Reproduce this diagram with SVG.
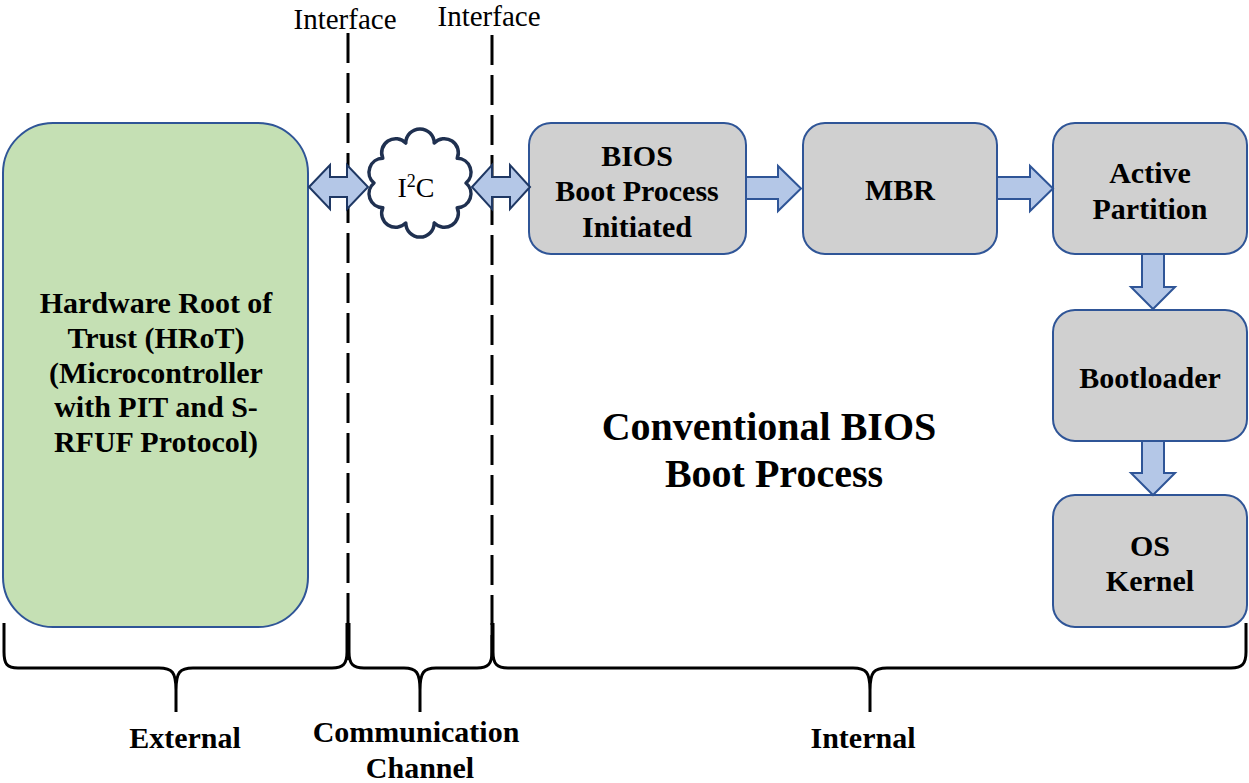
<svg xmlns="http://www.w3.org/2000/svg" width="1249" height="783" viewBox="0 0 1249 783">
<style>
.box{fill:#d0d0d0;stroke:#2f5597;stroke-width:2}
.hrot{fill:#c5e0b4;stroke:#2f5597;stroke-width:2}
.lbl{font-family:"Liberation Serif","Times New Roman",serif;font-weight:bold;font-size:30px;fill:#000;text-anchor:middle}
.big{font-size:40px}
.reg{font-family:"Liberation Serif","Times New Roman",serif;font-size:29px;fill:#000;text-anchor:middle}
.arr{fill:#b4c7e7;stroke:#2f5597;stroke-width:2;stroke-linejoin:miter}
.darr{fill:#b4c7e7;stroke:#1f3864;stroke-width:2;stroke-linejoin:miter}
.dash{stroke:#000;stroke-width:3;stroke-dasharray:30 10;fill:none}
.brace{stroke:#000;stroke-width:3;fill:none;stroke-linejoin:round}
</style>
<rect width="1249" height="783" fill="#fff"/>
<g id="interfaces">
<line class="dash" x1="348" y1="33" x2="348" y2="660"/>
<line class="dash" x1="492" y1="35" x2="492" y2="660"/>
<text class="reg" x="345" y="29">Interface</text>
<text class="reg" x="489" y="26">Interface</text>
</g>
<g id="hrot">
<rect class="hrot" x="3" y="123" width="305" height="504" rx="50"/>
<text class="lbl" x="156" y="313">Hardware Root of</text>
<text class="lbl" x="156" y="348">Trust (HRoT)</text>
<text class="lbl" x="156" y="383">(Microcontroller</text>
<text class="lbl" x="156" y="417">with PIT and S-</text>
<text class="lbl" x="156" y="452">RFUF Protocol)</text>
</g>
<g id="i2c">
<path d="M466,183 A14,14 0 0 1 457.2,207.7 A14,14 0 0 1 434.2,222.9 A14,14 0 0 1 405.8,222.9 A14,14 0 0 1 382.8,207.7 A14,14 0 0 1 374,183 A14,14 0 0 1 382.8,158.3 A14,14 0 0 1 405.8,143.1 A14,14 0 0 1 434.2,143.1 A14,14 0 0 1 457.2,158.3 A14,14 0 0 1 466,183 Z" fill="#fff" stroke="#1f3050" stroke-width="3.5" stroke-linejoin="round"/>
<text x="416" y="197" font-family="'Liberation Serif','Times New Roman',serif" font-size="28" text-anchor="middle">I<tspan font-size="18" dy="-10">2</tspan><tspan dy="10">C</tspan></text>
</g>
<g id="bios">
<rect class="box" x="529" y="123" width="217" height="131" rx="22"/>
<text class="lbl" x="637" y="166">BIOS</text>
<text class="lbl" x="637" y="201">Boot Process</text>
<text class="lbl" x="637" y="237">Initiated</text>
</g>
<g id="mbr">
<rect class="box" x="803" y="123" width="194" height="131" rx="22"/>
<text class="lbl" x="900" y="200">MBR</text>
</g>
<g id="active">
<rect class="box" x="1053" y="123" width="194" height="131" rx="22"/>
<text class="lbl" x="1150" y="183">Active</text>
<text class="lbl" x="1150" y="219">Partition</text>
</g>
<g id="bootloader">
<rect class="box" x="1053" y="310" width="194" height="131" rx="22"/>
<text class="lbl" x="1150" y="388">Bootloader</text>
</g>
<g id="oskernel">
<rect class="box" x="1053" y="495" width="194" height="132" rx="22"/>
<text class="lbl" x="1150" y="556">OS</text>
<text class="lbl" x="1150" y="591">Kernel</text>
</g>
<g id="title">
<text class="lbl big" x="769" y="440">Conventional BIOS</text>
<text class="lbl big" x="774" y="487">Boot Process</text>
</g>
<g id="connectors">
<polygon class="darr" points="309,187 330,165 330,177 347,177 347,165 368,187 347,209 347,197 330,197 330,209"/>
<polygon class="darr" points="472,187 492,165 492,177 510,177 510,165 530,187 510,209 510,197 492,197 492,209"/>
<polygon class="arr" points="746,177 778,177 778,166 801,188.5 778,211 778,199 746,199"/>
<polygon class="arr" points="997,177 1030,177 1030,166 1053,188.5 1030,211 1030,199 997,199"/>
<polygon class="arr" points="1142,254 1164,254 1164,287 1175,287 1153,309 1131,287 1142,287"/>
<polygon class="arr" points="1142,441 1164,441 1164,473 1175,473 1153,495 1131,473 1142,473"/>
</g>
<g id="braces">
<path class="brace" d="M4,623 L4,652 C4,664 7,668 18,668 L159,668 C172,668 176,672 176,690 L176,712 M176,712 L176,690 C176,672 180,668 193,668 L332,668 C343,668 347,664 347,652 L347,623"/>
<path class="brace" d="M349,623 L349,652 C349,664 353,668 364,668 L404,668 C416,668 420,672 420,690 L420,712 M420,690 C420,672 424,668 436,668 L477,668 C488,668 492,664 492,652 L492,623"/>
<path class="brace" d="M493,623 L493,652 C493,664 497,668 508,668 L853,668 C866,668 870,672 870,690 L870,712 M870,690 C870,672 874,668 887,668 L1231,668 C1242,668 1246,664 1246,652 L1246,623"/>
<text class="lbl" x="185" y="748">External</text>
<text class="lbl" x="416" y="742">Communication</text>
<text class="lbl" x="420" y="778">Channel</text>
<text class="lbl" x="863" y="748">Internal</text>
</g>
</svg>
